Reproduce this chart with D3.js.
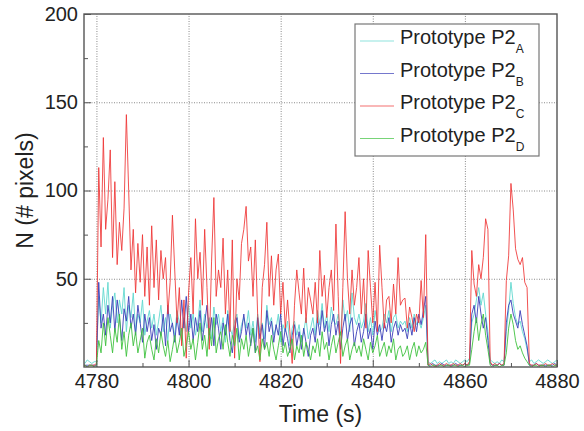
<!DOCTYPE html>
<html>
<head>
<meta charset="utf-8">
<script src="https://cdn.jsdelivr.net/npm/d3@7"></script>
<style>
  body { margin: 0; background: #fff; }
  svg text { font-family: "Liberation Sans", Arial, sans-serif; fill: #222; }
</style>
</head>
<body>
<div id="chart"></div>
<script>
// samples every 0.5 s starting at t = 4777 s
const sampleStart = 4777;
const sampleStep = 0.5;

const seriesNames = ["A", "B", "C", "D"];

// Prototype P2_A (cyan)
const valuesA = [
    3, 2, 4, 3, 2, 3, 3, 40, 25, 45,
    30, 48, 22, 35, 42, 25, 38, 30, 45, 20,
    35, 28, 42, 20, 30, 25, 38, 18, 26, 32,
    22, 30, 18, 26, 35, 20, 28, 15, 30, 24,
    18, 32, 25, 15, 28, 20, 35, 22, 30, 18,
    25, 38, 20, 30, 22, 28, 16, 34, 24, 30,
    20, 28, 14, 32, 22, 18, 26, 30, 16, 24,
    28, 22, 32, 18, 26, 14, 30, 20, 25, 16,
    35, 24, 28, 18, 22, 30, 14, 24, 20, 26,
    12, 22, 26, 18, 24, 14, 20, 28, 16, 22,
    28, 18, 32, 24, 36, 22, 30, 20, 34, 26,
    24, 30, 18, 38, 26, 32, 20, 42, 28, 24,
    30, 22, 26, 36, 20, 28, 18, 32, 24, 20,
    22, 30, 25, 32, 20, 28, 30, 22, 26, 24,
    26, 20, 28, 22, 30, 24, 26, 22, 28, 35,
    3, 2, 3, 4, 2, 3, 2, 3, 4, 2,
    3, 2, 4, 3, 2, 3, 4, 3, 5, 25,
    30, 38, 45, 35, 42, 30, 20, 4, 3, 2,
    3, 2, 4, 3, 20, 32, 48, 36, 28, 24,
    26, 20, 16, 10, 3, 4, 2, 3, 4, 3,
    2, 3, 4, 3, 2, 3, 4
];

// Prototype P2_B (blue)
const valuesB = [
    1, 1, 1, 1, 1, 1, 1, 48, 22, 30,
    18, 35, 25, 40, 20, 38, 28, 15, 33, 26,
    40, 22, 30, 18, 35, 25, 14, 30, 20, 28,
    15, 24, 10, 22, 18, 30, 12, 35, 20, 25,
    14, 28, 18, 38, 22, 40, 20, 30, 15, 28,
    20, 32, 15, 25, 35, 18, 28, 12, 30, 22,
    10, 25, 18, 30, 15, 8, 22, 28, 14, 20,
    30, 18, 25, 12, 22, 8, 28, 16, 24, 10,
    32, 20, 26, 14, 24, 18, 30, 12, 22, 16,
    8, 18, 24, 12, 20, 10, 22, 14, 6, 18,
    22, 14, 28, 18, 32, 20, 26, 12, 24, 30,
    18, 26, 10, 22, 30, 15, 24, 28, 12, 20,
    25, 14, 20, 30, 16, 22, 10, 26, 18, 24,
    15, 25, 20, 28, 14, 22, 26, 18, 24, 20,
    22, 16, 25, 18, 28, 20, 30, 24, 32, 40,
    1, 1, 2, 1, 1, 1, 2, 1, 1, 1,
    1, 1, 2, 1, 1, 1, 2, 1, 2, 30,
    35, 25, 40, 30, 22, 28, 15, 2, 1, 1,
    1, 2, 1, 1, 25, 35, 38, 30, 26, 22,
    32, 24, 18, 12, 1, 1, 1, 2, 1, 1,
    1, 1, 1, 1, 1, 2, 1
];

// Prototype P2_C (red)
const valuesC = [
    1, 1, 0, 1, 1, 1, 2, 113, 68, 130,
    78, 95, 123, 62, 105, 58, 82, 66, 90, 143,
    100, 55, 78, 42, 70, 48, 75, 40, 68, 35,
    80, 45, 72, 38, 66, 50, 62, 30, 48, 86,
    55, 25, 45, 12, 38, 5, 42, 62, 30, 84,
    50, 65, 35, 78, 45, 10, 60, 96, 40, 55,
    45, 73, 30, 55, 20, 72, 5, 50, 38, 70,
    78, 91, 60, 68, 40, 72, 30, 3, 45, 58,
    82, 40, 63, 35, 55, 64, 30, 48, 22, 38,
    20, 2, 35, 55, 42, 30, 56, 25, 45, 38,
    30, 48, 25, 66, 40, 52, 28, 45, 55, 32,
    81, 40, 2, 45, 88, 50, 30, 55, 35, 45,
    62, 30, 50, 22, 66, 45, 25, 48, 20, 69,
    45, 22, 38, 40, 25, 47, 30, 62, 35, 38,
    39, 22, 34, 28, 20, 30, 25, 49, 28, 75,
    1, 2, 1, 0, 1, 2, 1, 1, 2, 1,
    1, 2, 1, 1, 2, 1, 2, 1, 3, 66,
    47, 40, 58, 50, 62, 84, 78, 3, 1, 2,
    1, 2, 1, 2, 49, 63, 104, 89, 67, 61,
    58, 62, 48, 45, 2, 1, 1, 2, 1, 1,
    1, 2, 1, 1, 2, 1, 1
];

// Prototype P2_D (green)
const valuesD = [
    1, 1, 0, 1, 1, 0, 1, 15, 8, 25,
    12, 28, 18, 8, 22, 14, 30, 10, 20, 6,
    18, 25, 12, 20, 8, 15, 22, 5, 14, 18,
    10, 4, 16, 8, 20, 12, 6, 15, 3, 10,
    18, 8, 14, 22, 6, 12, 20, 10, 16, 4,
    14, 25, 10, 18, 6, 22, 12, 28, 8, 16,
    20, 10, 24, 14, 6, 18, 12, 22, 4, 16,
    10, 18, 6, 14, 22, 8, 12, 4, 16, 10,
    14, 6, 18, 10, 4, 12, 20, 8, 14, 6,
    10, 16, 4, 12, 8, 18, 6, 14, 10, 4,
    12, 8, 16, 6, 20, 10, 14, 4, 12, 18,
    8, 14, 20, 6, 12, 16, 4, 10, 14, 8,
    12, 6, 16, 10, 4, 14, 8, 12, 18, 6,
    10, 14, 6, 12, 8, 16, 4, 10, 12, 6,
    8, 12, 4, 10, 14, 6, 12, 8, 10, 14,
    1, 0, 1, 1, 0, 1, 1, 0, 1, 1,
    0, 1, 1, 0, 1, 1, 0, 1, 1, 10,
    20, 28, 15, 24, 30, 18, 10, 1, 0, 1,
    1, 0, 1, 1, 8, 22, 30, 24, 15, 10,
    12, 8, 5, 3, 1, 0, 1, 1, 0, 1,
    1, 0, 1, 1, 0, 1, 1
];

const xTicks = [4780, 4800, 4820, 4840, 4860, 4880];
const xMinorTicks = [4790, 4810, 4830, 4850, 4870];
const yTicks = [50, 100, 150, 200];
const yMinorTicks = [25, 75, 125, 175];

const colors = ["#62d8cf", "#3b3fb8", "#ee3434", "#3fc23f"];

// set up svg
const W = 584, H = 431;
const margin = { top: 14, right: 27, bottom: 64, left: 84 },
    width = W - margin.left - margin.right,
    height = H - margin.top - margin.bottom;

const svg = d3.select("#chart").append("svg")
    .attr("width", W)
    .attr("height", H);

const g = svg.append("g")
    .attr("transform", "translate(" + margin.left + "," + margin.top + ")");

const x = d3.scaleLinear().domain([4777.3, 4880]).range([0, width]);
const y = d3.scaleLinear().domain([0, 200]).range([height, 0]);

// dotted grid
g.append("g")
    .attr("transform", "translate(0," + height + ")")
    .call(d3.axisBottom(x).tickValues(xTicks.slice(0, -1)).tickSize(-height).tickFormat(""))
    .call(a => a.select(".domain").remove())
    .selectAll("line")
    .attr("stroke", "#8a8a8a")
    .attr("stroke-dasharray", "1,1.5");

g.append("g")
    .call(d3.axisLeft(y).tickValues(yTicks.slice(0, -1)).tickSize(-width).tickFormat(""))
    .call(a => a.select(".domain").remove())
    .selectAll("line")
    .attr("stroke", "#8a8a8a")
    .attr("stroke-dasharray", "1,1.5");

// series
g.append("clipPath").attr("id", "clip")
    .append("rect").attr("width", width).attr("height", height);

const line = d3.line()
    .x((d, i) => x(sampleStart + i * sampleStep))
    .y(d => y(d));

const allValues = [valuesA, valuesB, valuesC, valuesD];

g.append("g")
    .attr("clip-path", "url(#clip)")
    .selectAll("path")
    .data(allValues)
    .enter().append("path")
    .attr("d", line)
    .attr("fill", "none")
    .attr("stroke", (d, i) => colors[i])
    .attr("stroke-width", 1)
    .attr("stroke-opacity", (d, i) => i == 2 ? 0.85 : 0.9);

// axes with inward ticks
g.append("g")
    .attr("transform", "translate(0," + height + ")")
    .call(d3.axisBottom(x).tickValues(xTicks).tickFormat(d3.format("d")).tickSize(-7).tickPadding(7));

g.append("g")
    .attr("transform", "translate(0," + height + ")")
    .call(d3.axisBottom(x).tickValues(xMinorTicks).tickSize(-4).tickFormat(""))
    .call(a => a.select(".domain").remove());

g.append("g")
    .call(d3.axisLeft(y).tickValues(yTicks).tickFormat(d3.format("d")).tickSize(-7).tickPadding(6));

g.append("g")
    .call(d3.axisLeft(y).tickValues(yMinorTicks).tickSize(-4).tickFormat(""))
    .call(a => a.select(".domain").remove());

g.selectAll(".domain").remove();
g.selectAll(".tick line").filter(function () { return !this.getAttribute("stroke-dasharray"); })
    .attr("stroke", "#555");
g.selectAll(".tick text")
    .style("font-size", "20px")
    .attr("fill", "#222");

// frame
g.append("rect")
    .attr("width", width)
    .attr("height", height)
    .attr("fill", "none")
    .attr("stroke", "#555")
    .attr("stroke-width", 1.4);

// axis titles
svg.append("text")
    .attr("x", margin.left + width / 2)
    .attr("y", 422)
    .attr("text-anchor", "middle")
    .style("font-size", "23px")
    .text("Time (s)");

svg.append("text")
    .attr("transform", "translate(33," + (margin.top + height / 2) + ") rotate(-90)")
    .attr("text-anchor", "middle")
    .style("font-size", "23px")
    .text("N (# pixels)");

// legend
const legend = svg.append("g").attr("transform", "translate(355,24)");

legend.append("rect")
    .attr("width", 184)
    .attr("height", 132)
    .attr("fill", "#fff")
    .attr("stroke", "#777")
    .attr("stroke-width", 1.2);

const item = legend.selectAll(".item")
    .data(seriesNames)
    .enter().append("g")
    .attr("class", "item")
    .attr("transform", (d, i) => "translate(0," + (20 + i * 32.5) + ")");

item.append("line")
    .attr("x1", 5).attr("x2", 39)
    .attr("y1", -3).attr("y2", -3)
    .attr("stroke", (d, i) => colors[i])
    .attr("stroke-opacity", 0.7)
    .attr("stroke-width", 1.2);

const label = item.append("text")
    .attr("x", 45)
    .style("font-size", "20px");

label.append("tspan").text("Prototype P2");
label.append("tspan")
    .attr("dy", 9)
    .style("font-size", "12px")
    .text(d => d);
</script>
</body>
</html>
